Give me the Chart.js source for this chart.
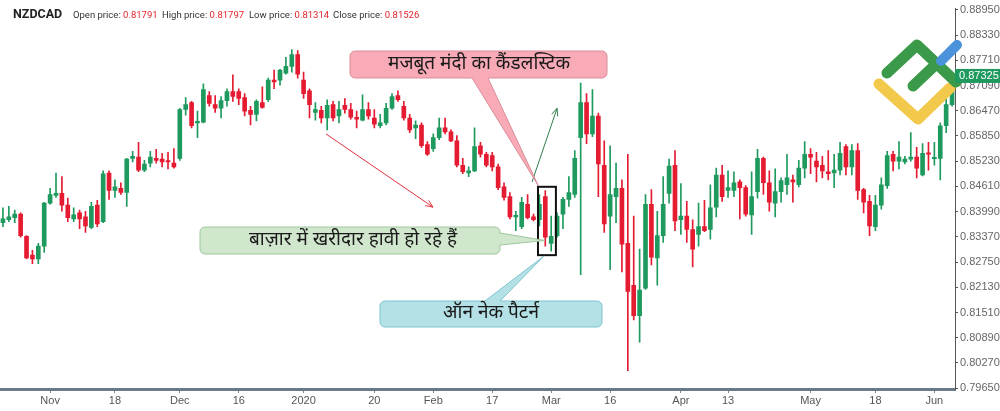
<!DOCTYPE html>
<html>
<head>
<meta charset="utf-8">
<script src="https://cdn.jsdelivr.net/npm/chart.js@4.4.0/dist/chart.umd.min.js"></script>
<style>
  html, body { margin: 0; padding: 0; background: #fff; }
  #wrap { position: relative; width: 1000px; height: 411px; }
</style>
</head>
<body>
<div id="wrap"><canvas id="chart" width="1000" height="411"></canvas></div>
<script>
/* ===============================================
   NZDCAD daily candles, Oct 2019 - Jun 2020
   =============================================== */

const open = [
  .8372, .8379, .8384, .8393, .8338, .8292, .8283, .8314, .8420, .8439,
  .8444, .8415, .8381, .8396, .8386, .8360, .8415, .8374, .8494, .8451,
  .8456, .8446, .8530, .8533, .8501, .8518, .8530, .8528, .8524, .8518,
  .8530, .8650, .8667, .8617, .8619, .8684, .8662, .8653, .8672, .8694,
  .8694, .8679, .8648, .8638, .8667, .8674, .8722, .8722, .8739, .8756,
  .8785, .8722, .8696, .8643, .8648, .8629, .8662, .8634, .8660, .8650,
  .8631, .8624, .8650, .8629, .8610, .8617, .8653, .8684, .8658, .8629,
  .8605, .8612, .8564, .8554, .8581, .8605, .8595, .8573, .8513, .8494,
  .8499, .8561, .8540, .8537, .8509, .8460, .8436, .8386, .8362, .8417,
  .8386, .8379, .8436, .8321, .8340, .8393, .8429, .8441, .8581, .8667,
  .8590, .8634, .8513, .8388, .8436, .8456, .8321, .8218, .8143, .8211,
  .8417, .8285, .8340, .8444, .8513, .8379, .8388, .8355, .8343, .8362,
  .8355, .8410, .8489, .8451, .8451, .8472, .8458, .8391, .8448, .8530,
  .8470, .8420, .8448, .8465, .8477, .8465, .8506, .8540, .8523, .8513,
  .8497, .8494, .8501, .8559, .8509, .8549, .8453, .8424, .8362, .8415,
  .8463, .8540, .8523, .8521, .8528, .8533, .8489, .8542, .8529, .8530,
  .8610, .8662
];
const high = [
  .8408, .8412, .8403, .8396, .8340, .8304, .8321, .8422, .8456, .8494,
  .8485, .8432, .8408, .8403, .8400, .8422, .8427, .8499, .8499, .8477,
  .8470, .8530, .8547, .8569, .8525, .8547, .8552, .8542, .8545, .8554,
  .8653, .8679, .8670, .8646, .8713, .8694, .8684, .8682, .8701, .8735,
  .8701, .8689, .8658, .8674, .8706, .8727, .8747, .8749, .8778, .8797,
  .8795, .8742, .8701, .8667, .8658, .8674, .8670, .8670, .8677, .8665,
  .8646, .8686, .8667, .8650, .8638, .8665, .8689, .8696, .8670, .8638,
  .8622, .8617, .8571, .8590, .8629, .8629, .8600, .8586, .8530, .8509,
  .8605, .8569, .8545, .8545, .8516, .8470, .8446, .8400, .8434, .8441,
  .8393, .8441, .8451, .8388, .8396, .8434, .8485, .8549, .8715, .8689,
  .8699, .8641, .8573, .8561, .8518, .8477, .8540, .8388, .8307, .8441,
  .8453, .8400, .8485, .8528, .8549, .8468, .8424, .8379, .8420, .8427,
  .8465, .8506, .8513, .8499, .8497, .8477, .8463, .8497, .8552, .8533,
  .8499, .8504, .8482, .8540, .8489, .8525, .8571, .8554, .8545, .8535,
  .8549, .8540, .8569, .8564, .8564, .8566, .8456, .8439, .8439, .8482,
  .8547, .8547, .8571, .8535, .8593, .8557, .8566, .8569, .8569, .8617,
  .8694, .8739
];
const low = [
  .8362, .8374, .8372, .8336, .8283, .8271, .8271, .8299, .8417, .8434,
  .8400, .8374, .8374, .8357, .8348, .8357, .8362, .8372, .8429, .8434,
  .8441, .8412, .8521, .8497, .8497, .8509, .8518, .8509, .8504, .8506,
  .8525, .8636, .8605, .8581, .8617, .8658, .8643, .8629, .8658, .8670,
  .8662, .8634, .8612, .8622, .8653, .8670, .8701, .8710, .8737, .8742,
  .8727, .8677, .8629, .8624, .8617, .8600, .8622, .8617, .8641, .8626,
  .8605, .8622, .8626, .8605, .8605, .8612, .8650, .8670, .8624, .8593,
  .8578, .8557, .8537, .8547, .8576, .8590, .8571, .8509, .8492, .8485,
  .8497, .8533, .8509, .8499, .8453, .8427, .8381, .8352, .8357, .8381,
  .8376, .8364, .8314, .8302, .8336, .8357, .8412, .8434, .8244, .8566,
  .8583, .8436, .8348, .8256, .8372, .8251, .8008, .8133, .8078, .8208,
  .8268, .8218, .8323, .8420, .8352, .8343, .8323, .8263, .8314, .8350,
  .8331, .8386, .8424, .8434, .8436, .8381, .8388, .8343, .8432, .8441,
  .8400, .8386, .8422, .8441, .8422, .8460, .8482, .8492, .8472, .8482,
  .8477, .8458, .8489, .8489, .8489, .8429, .8396, .8340, .8352, .8405,
  .8456, .8499, .8504, .8516, .8523, .8482, .8487, .8501, .8513, .8477,
  .8593, .8658
];
const close = [
  .8381, .8386, .8393, .8340, .8285, .8283, .8314, .8420, .8441, .8444,
  .8415, .8384, .8391, .8381, .8364, .8412, .8369, .8492, .8451, .8460,
  .8446, .8528, .8535, .8501, .8516, .8533, .8525, .8521, .8521, .8509,
  .8650, .8662, .8610, .8619, .8699, .8665, .8653, .8672, .8694, .8682,
  .8677, .8646, .8638, .8670, .8655, .8722, .8718, .8747, .8756, .8785,
  .8737, .8689, .8662, .8650, .8629, .8660, .8629, .8650, .8650, .8631,
  .8626, .8650, .8634, .8614, .8617, .8653, .8682, .8674, .8629, .8600,
  .8612, .8561, .8540, .8581, .8605, .8595, .8573, .8513, .8497, .8499,
  .8559, .8540, .8513, .8509, .8458, .8434, .8386, .8388, .8422, .8384,
  .8379, .8417, .8336, .8338, .8388, .8429, .8446, .8530, .8667, .8590,
  .8634, .8516, .8369, .8441, .8456, .8319, .8203, .8143, .8206, .8417,
  .8287, .8340, .8417, .8511, .8376, .8388, .8355, .8307, .8362, .8352,
  .8408, .8489, .8436, .8458, .8470, .8458, .8393, .8436, .8530, .8470,
  .8422, .8448, .8475, .8482, .8472, .8506, .8540, .8533, .8509, .8499,
  .8492, .8501, .8542, .8509, .8549, .8451, .8422, .8364, .8415, .8465,
  .8537, .8523, .8533, .8528, .8533, .8506, .8542, .8540, .8530, .8610,
  .8662, .87325
];

// x axis: candle index -> date label
const tickIndex = [8, 19, 30, 40, 51, 63, 73, 83, 93, 103, 115, 123, 137, 148, 158];
const tickText = ['Nov', '18', 'Dec', '16', '2020', '20', 'Feb', '17', 'Mar', '16', 'Apr', '13', 'May', '18', 'Jun'];

// y axis price ticks
const priceTicks = [0.79650, 0.80270, 0.80890, 0.81510, 0.82130, 0.82750, 0.83370, 0.83990,
                    0.84610, 0.85230, 0.85850, 0.86470, 0.87090, 0.87710, 0.88330, 0.88950];

const header = [
    ['Open price:', '0.81791'],
    ['High price:', '0.81797'],
    ['Low price:', '0.81314'],
    ['Close price:', '0.81526']
];

const GREEN = '#1f9a5e';
const RED = '#e41b31';
const HINDI = "'Noto Sans Devanagari', 'Lohit Devanagari', 'Mangal', 'Noto Sans', sans-serif";

const candleColors = open.map((o, i) => close[i] >= o ? GREEN : RED);

// Rounded box with a pointer leaving one side
function calloutPath(ctx, x, y, w, h, r, side, a, b, tip) {
    ctx.beginPath();
    ctx.moveTo(x + r, y);
    if (side === 'top') { ctx.lineTo(a, y); ctx.lineTo(tip.x, tip.y); ctx.lineTo(b, y); }
    ctx.lineTo(x + w - r, y);
    ctx.arcTo(x + w, y, x + w, y + r, r);
    if (side === 'right') { ctx.lineTo(x + w, a); ctx.lineTo(tip.x, tip.y); ctx.lineTo(x + w, b); }
    ctx.lineTo(x + w, y + h - r);
    ctx.arcTo(x + w, y + h, x + w - r, y + h, r);
    if (side === 'bottom') { ctx.lineTo(b, y + h); ctx.lineTo(tip.x, tip.y); ctx.lineTo(a, y + h); }
    ctx.lineTo(x + r, y + h);
    ctx.arcTo(x, y + h, x, y + h - r, r);
    ctx.lineTo(x, y + r);
    ctx.arcTo(x, y, x + r, y, r);
    ctx.closePath();
}

function arrow(ctx, x1, y1, x2, y2, color) {
    const ang = Math.atan2(y2 - y1, x2 - x1);
    ctx.strokeStyle = color;
    ctx.lineWidth = 1;
    ctx.beginPath();
    ctx.moveTo(x1, y1);
    ctx.lineTo(x2, y2);
    ctx.moveTo(x2 - 8 * Math.cos(ang - 0.4), y2 - 8 * Math.sin(ang - 0.4));
    ctx.lineTo(x2, y2);
    ctx.lineTo(x2 - 8 * Math.cos(ang + 0.4), y2 - 8 * Math.sin(ang + 0.4));
    ctx.stroke();
}

const overlay = {
    id: 'overlay',
    afterDraw(chart) {
        const { ctx, scales: { x, y } } = chart;
        const px = i => x.getPixelForValue(i);
        const py = v => y.getPixelForValue(v);
        ctx.save();

        // header
        ctx.textBaseline = 'alphabetic';
        ctx.fillStyle = '#222';
        ctx.font = "bold 12.5px Roboto, 'Liberation Sans', sans-serif";
        ctx.fillText('NZDCAD', 13, 18);
        const starts = [73, 162, 249, 333];
        ctx.font = "9.5px Roboto, 'Liberation Sans', sans-serif";
        header.forEach(([label, value], k) => {
            ctx.fillStyle = '#333';
            ctx.fillText(label, starts[k], 18);
            const w = ctx.measureText(label + ' ').width;
            ctx.fillStyle = '#e3242b';
            ctx.fillText(value, starts[k] + w, 18);
        });

        // trend arrows
        arrow(ctx, px(54.8), py(0.8590), px(72.95), py(0.8410), '#e0303a');
        arrow(ctx, px(89.75), py(0.8472), px(94.0), py(0.8653), '#2e7d4a');

        // box around the on-neck pair
        ctx.strokeStyle = '#111';
        ctx.lineWidth = 2;
        const bx1 = px(90.76), bx2 = px(93.8), by1 = py(0.8460), by2 = py(0.8292);
        ctx.strokeRect(bx1, by1, bx2 - bx1, by2 - by1);

        // callouts
        ctx.lineWidth = 1;
        const callouts = [
            { x: 350, y: 51, w: 257, h: 27, side: 'bottom', a: 472, b: 488,
              tip: { x: px(90.8), y: py(0.8463) }, fill: '#f8abb7', stroke: '#d98d99',
              text: 'मजबूत मंदी का कैंडलस्टिक', tx: 479, ty: 65 },
            { x: 200, y: 227, w: 300, h: 27, side: 'right', a: 233, b: 245,
              tip: { x: px(91.95), y: py(0.8328) }, fill: '#d0e7cd', stroke: '#9fc79b',
              text: 'बाज़ार में खरीदार हावी हो रहे हैं', tx: 353, ty: 241 },
            { x: 380, y: 301, w: 222, h: 26, side: 'top', a: 485, b: 500,
              tip: { x: px(91.8), y: py(0.8290) }, fill: '#b4e1e6', stroke: '#7cc4cf',
              text: 'ऑन नेक पैटर्न', tx: 491, ty: 314 }
        ];
        callouts.forEach(c => {
            calloutPath(ctx, c.x, c.y, c.w, c.h, 5, c.side, c.a, c.b, c.tip);
            ctx.fillStyle = c.fill;
            ctx.fill();
            ctx.strokeStyle = c.stroke;
            ctx.stroke();
            ctx.fillStyle = '#1a1a1a';
            ctx.font = '19px ' + HINDI;
            ctx.textAlign = 'center';
            ctx.textBaseline = 'middle';
            ctx.fillText(c.text, c.tx, c.ty);
        });

        // logo
        ctx.lineCap = 'round';
        ctx.lineJoin = 'round';
        ctx.lineWidth = 11;
        ctx.strokeStyle = '#f2c94a';
        ctx.beginPath();
        ctx.moveTo(879, 84); ctx.lineTo(918, 119); ctx.lineTo(950, 88);
        ctx.stroke();
        ctx.strokeStyle = '#3b9a4a';
        ctx.beginPath();
        ctx.moveTo(887, 73); ctx.lineTo(917, 45); ctx.lineTo(956, 82);
        ctx.moveTo(913, 86); ctx.lineTo(932, 68);
        ctx.stroke();
        ctx.strokeStyle = '#4a93db';
        ctx.lineWidth = 10;
        ctx.beginPath();
        ctx.moveTo(941, 61); ctx.lineTo(957, 45);
        ctx.stroke();

        // last price tag
        const last = close[close.length - 1];
        const ly = py(last);
        ctx.fillStyle = '#1f9a5e';
        ctx.fillRect(955, ly - 7, 45, 14);
        ctx.fillStyle = '#fff';
        ctx.font = "11px 'Liberation Sans', Arial, sans-serif";
        ctx.textAlign = 'left';
        ctx.textBaseline = 'middle';
        ctx.fillText(last.toFixed(5), 959, ly + 0.5);

        ctx.restore();
    }
};

new Chart(document.getElementById('chart'), {
    type: 'bar',
    data: {
        labels: open.map((_, i) => i),
        datasets: [
            {
                // wicks
                data: low.map((l, i) => [l, high[i]]),
                backgroundColor: candleColors,
                barThickness: 1,
                grouped: false,
                order: 2
            },
            {
                // bodies
                data: open.map((o, i) => [o, close[i]]),
                backgroundColor: candleColors,
                barThickness: 4,
                minBarLength: 1.5,
                grouped: false,
                order: 1
            }
        ]
    },
    options: {
        responsive: false,
        animation: false,
        layout: { padding: 0 },
        plugins: {
            legend: { display: false },
            tooltip: { enabled: false }
        },
        scales: {
            x: {
                type: 'category',
                offset: true,
                grid: {
                    offset: false,
                    drawOnChartArea: false,
                    drawTicks: true,
                    tickLength: 4,
                    tickColor: ctx => tickIndex.includes(ctx.index) ? '#7a8794' : 'rgba(0,0,0,0)'
                },
                border: { color: '#6b7a88', width: 3 },
                ticks: {
                    autoSkip: false,
                    maxRotation: 0,
                    padding: 1,
                    color: '#555',
                    font: { size: 11, family: "'Liberation Sans', Arial, sans-serif" },
                    callback: (v, i) => {
                        const k = tickIndex.indexOf(i);
                        return k >= 0 ? tickText[k] : '';
                    }
                },
                afterFit: s => { s.height = 22; }
            },
            y: {
                type: 'linear',
                position: 'right',
                min: 0.7963,
                max: 0.8898,
                afterBuildTicks: s => { s.ticks = priceTicks.map(v => ({ value: v })); },
                grid: {
                    drawOnChartArea: false,
                    tickLength: 3,
                    tickColor: '#555'
                },
                border: { color: '#555', width: 1 },
                ticks: {
                    padding: 2,
                    color: '#666',
                    font: { size: 11, family: "'Liberation Sans', Arial, sans-serif" },
                    callback: v => v.toFixed(5)
                },
                afterFit: s => { s.width = 45; }
            }
        }
    },
    plugins: [overlay]
});
</script>
</body>
</html>
